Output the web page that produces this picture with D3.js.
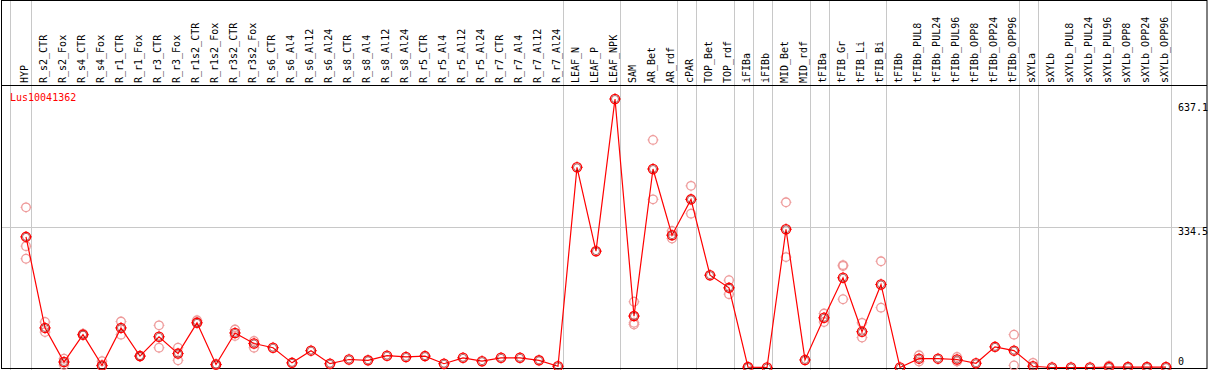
<!DOCTYPE html>
<html>
<head>
    <title>Lus10041362</title>
    <script src="https://d3js.org/d3.v7.min.js"></script>
    <style>
        body { margin: 0; background: white; }
        text { font-family: "DejaVu Sans Mono", monospace; font-size: 10px; }
    </style>
</head>
<body>
<svg id="chart" width="1209" height="370"></svg>
<script>
    // sample names, left to right
    const samples = ["HYP", "R_s2_CTR", "R_s2_Fox", "R_s4_CTR", "R_s4_Fox", "R_r1_CTR", "R_r1_Fox",
        "R_r3_CTR", "R_r3_Fox", "R_r1s2_CTR", "R_r1s2_Fox", "R_r3s2_CTR", "R_r3s2_Fox",
        "R_s6_CTR", "R_s6_Al4", "R_s6_Al12", "R_s6_Al24", "R_s8_CTR", "R_s8_Al4", "R_s8_Al12", "R_s8_Al24",
        "R_r5_CTR", "R_r5_Al4", "R_r5_Al12", "R_r5_Al24", "R_r7_CTR", "R_r7_Al4", "R_r7_Al12", "R_r7_Al24",
        "LEAF_N", "LEAF_P", "LEAF_NPK", "SAM", "AR_Bet", "AR_rdf", "cPAR", "TOP_Bet", "TOP_rdf",
        "iFIBa", "iFIBb", "MID_Bet", "MID_rdf", "tFIBa", "tFIB_Gr", "tFIB_Li", "tFIB_Bi",
        "tFIBb", "tFIBb_PUL8", "tFIBb_PUL24", "tFIBb_PUL96", "tFIBb_OPP8", "tFIBb_OPP24", "tFIBb_OPP96",
        "sXYLa", "sXYLb", "sXYLb_PUL8", "sXYLb_PUL24", "sXYLb_PUL96", "sXYLb_OPP8", "sXYLb_OPP24", "sXYLb_OPP96"];

    // mean expression per sample
    const meanValues = [310, 94, 13, 78, 5, 94, 27, 73, 33, 106, 7, 82, 57,
        47, 11, 40, 9, 19, 17, 28, 25,
        27, 9, 23, 15, 23, 23, 17, 3,
        475, 276, 637.1, 122, 471, 314, 399, 219, 189,
        1, 0, 328, 18, 118, 213, 85, 197,
        0, 21, 21, 19, 10, 49, 40,
        3, 0, 0, 0, 1, 1, 1, 1];

    // replicate values per sample (where visible)
    const replicates = [[380, 288, 258], [108, 84], [21, 6], [80, 77], [15, 3], [109, 78], [28, 26],
        [100, 47], [47, 17], [112, 108], [8, 6], [90, 75], [63, 47],
        [], [], [], [], [], [], [], [],
        [], [], [], [], [], [], [], [],
        [], [], [], [156, 106, 102], [540, 399], [324, 306], [431, 365], [], [207, 174],
        [], [], [392, 262], [], [128, 108], [241, 243, 162], [106, 71], [252, 142],
        [], [29, 14], [], [25, 14], [], [], [78, 5],
        [11], [], [], [], [4], [], [], []];

    // index of the last sample in each tissue group
    const groupEnds = [0, 28, 31, 34, 35, 37, 38, 39, 41, 42, 45, 52, 53, 60];

    const scaleTicks = [0, 334.5, 637.1];
    const geneName = "Lus10041362";

    const svg = d3.select("#chart");
    const W = 1209, H = 370;

    const x = d3.scalePoint().domain(d3.range(samples.length)).range([26, 1166]);
    const y = d3.scaleLinear().domain([0, 637.1]).range([367.5, 99]);

    // group separators
    const sepX = [x(0) - 16].concat(groupEnds.map(i => x(i) + 4.5));
    svg.selectAll("line.sep").data(sepX).join("line")
        .attr("class", "sep")
        .attr("x1", d => Math.round(d) + 0.5).attr("x2", d => Math.round(d) + 0.5)
        .attr("y1", 0).attr("y2", H)
        .attr("stroke", "#c8c8c8").attr("stroke-width", 1);

    // middle scale gridline
    svg.append("line")
        .attr("x1", 1).attr("x2", W - 2)
        .attr("y1", Math.round(y(334.5)) + 0.5).attr("y2", Math.round(y(334.5)) + 0.5)
        .attr("stroke", "#c8c8c8");

    // frame
    svg.append("rect").attr("x", 1.5).attr("y", 0.5).attr("width", W - 3.5).attr("height", 368)
        .attr("fill", "none").attr("stroke", "black");
    svg.append("line").attr("x1", 1).attr("x2", W - 2).attr("y1", 85.5).attr("y2", 85.5)
        .attr("stroke", "black");

    // sample labels
    svg.selectAll("text.lab").data(samples).join("text")
        .attr("class", "lab")
        .attr("transform", (d, i) => `translate(${x(i) + 2},83) rotate(-90)`)
        .attr("fill", "black")
        .text(d => d);

    // gene name
    svg.append("text").attr("x", 10).attr("y", 100.5).attr("fill", "red").text(geneName);

    // scale labels on the right
    svg.selectAll("text.tick").data(scaleTicks).join("text")
        .attr("class", "tick")
        .attr("x", 1178)
        .attr("y", d => d === 0 ? y(d) - 3 : y(d) + (d === 637.1 ? 12 : 8))
        .attr("fill", "black")
        .text(d => d);

    function marker(g, cx, cy, color, r) {
        g.append("circle").attr("cx", cx).attr("cy", cy).attr("r", r)
            .attr("fill", "none").attr("stroke", color).attr("stroke-width", 1.3);
        [[0, -1], [0, 1], [-1, 0], [1, 0]].forEach(([dx, dy]) => {
            g.append("line")
                .attr("x1", cx + dx * r).attr("y1", cy + dy * r)
                .attr("x2", cx + dx * (r + 1.2)).attr("y2", cy + dy * (r + 1.2))
                .attr("stroke", color).attr("stroke-width", 0.9);
        });
    }

    // replicates
    const rep = svg.append("g");
    replicates.forEach((vals, i) => {
        vals.forEach(v => marker(rep, x(i), y(v), "#ee9a9a", 4.3));
    });

    // mean line
    svg.append("path")
        .datum(meanValues)
        .attr("d", d3.line().x((d, i) => x(i)).y(d => y(d)))
        .attr("fill", "none").attr("stroke", "red").attr("stroke-width", 1.2);

    const mg = svg.append("g");
    meanValues.forEach((v, i) => {
        marker(mg, x(i), y(v), "red", 4.6);
        mg.append("circle").attr("cx", x(i)).attr("cy", y(v)).attr("r", 3.5)
            .attr("fill", "none").attr("stroke", "#700").attr("stroke-width", 0.6);
    });
</script>
</body>
</html>
